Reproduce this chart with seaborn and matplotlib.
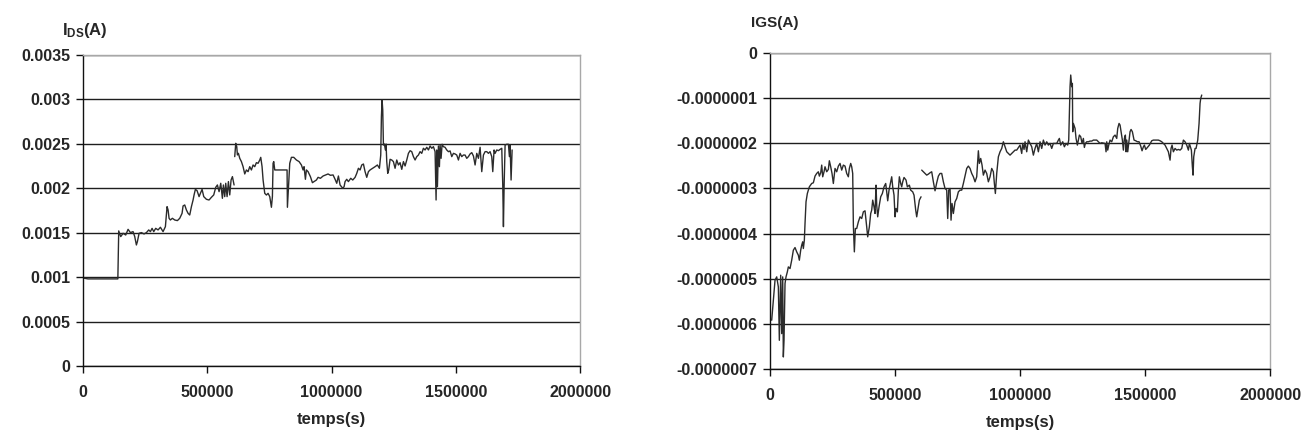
"""Courbes IDS(t) et IGS(t) - deux graphiques côte à côte"""

import numpy as np
import pandas as pd
import seaborn as sns
import matplotlib.pyplot as plt
from matplotlib.ticker import FuncFormatter, MultipleLocator

# ===================================================================
# ============================ DONNÉES ==============================
# ===================================================================

# --- IDS (A) : deux morceaux de courbe (coupure vers 608000 s) ---
ids_t_1 = [0, 20000, 130000, 140000, 143500, 151600, 161000, 171700, 181100, 190500,
           201200, 207900, 214600, 218600, 225400, 234700, 245500, 254900, 264300, 271000,
           277700, 284400, 292400, 301800, 311200, 321900, 331300, 338000, 342100, 346100,
           351400, 359500, 368900, 379600, 389000, 398400, 402400, 409100, 415800, 422500,
           429200, 436000, 442700, 446700, 452000, 458800, 466800, 472200, 478900, 485600,
           496300, 507000, 516400, 525800, 533900, 540600, 547300, 554000, 560700, 564700,
           570100, 574100, 579500, 584900, 590200, 595600, 601000, 607700]
ids_1 = [0.00099, 0.00098, 0.00098, 0.00098, 0.00152, 0.001456, 0.001493, 0.001474, 0.001538, 0.001501,
         0.001512, 0.001456, 0.001362, 0.001399, 0.001493, 0.001501, 0.001486, 0.001501, 0.001531, 0.001512,
         0.001549, 0.001512, 0.001549, 0.001531, 0.001561, 0.001512, 0.001568, 0.001793, 0.001756, 0.001662,
         0.001643, 0.001662, 0.001643, 0.001636, 0.001662, 0.001718, 0.001801, 0.001812, 0.001756, 0.001718,
         0.001699, 0.001793, 0.001868, 0.001925, 0.001988, 0.001973, 0.001906, 0.001943, 0.001988, 0.001906,
         0.001876, 0.001868, 0.001898, 0.001925, 0.002011, 0.002037, 0.001962, 0.002056, 0.001887, 0.002037,
         0.001906, 0.002056, 0.001906, 0.002075, 0.001925, 0.002093, 0.002131, 0.002037]

ids_t_2 = [610300, 614400, 618400, 621100, 625100, 630500, 637200, 643900, 650600, 657300,
           664000, 670700, 677400, 684100, 690800, 697500, 704200, 711000, 715000, 720300,
           724400, 731100, 737800, 744500, 751200, 757900, 761900, 764600, 767300, 771300,
           775300, 818300, 820900, 822300, 826300, 831700, 838400, 847800, 858500, 869200,
           878600, 885300, 889300, 894700, 898700, 905400, 914800, 922900, 929600, 939000,
           945700, 955100, 965800, 976500, 985900, 995300, 1006000, 1014100, 1020800, 1027500,
           1034200, 1045000, 1050300, 1054300, 1061000, 1067700, 1077100, 1085200, 1094600, 1101300,
           1108000, 1114700, 1121400, 1128100, 1134800, 1141500, 1148200, 1154900, 1165700, 1175100,
           1184400, 1192500, 1197800, 1200500, 1203200, 1205900, 1208600, 1212600, 1216600, 1219300,
           1222000, 1226000, 1230000, 1235400, 1242100, 1248800, 1255500, 1262200, 1268900, 1275600,
           1282400, 1289100, 1295800, 1302500, 1309200, 1315900, 1322600, 1329300, 1336000, 1342700,
           1349400, 1356100, 1362800, 1369500, 1376200, 1383000, 1389700, 1396400, 1403100, 1409800,
           1416500, 1420500, 1423200, 1425900, 1429900, 1433900, 1436600, 1440600, 1444700, 1450000,
           1456700, 1463400, 1470200, 1476900, 1483600, 1490300, 1497000, 1503700, 1510400, 1517100,
           1523800, 1530500, 1537200, 1543900, 1550600, 1557300, 1564100, 1570800, 1577500, 1584200,
           1590900, 1597600, 1604300, 1611000, 1617700, 1624400, 1631100, 1637800, 1644500, 1648600,
           1653900, 1657900, 1664700, 1671400, 1678100, 1684800, 1688800, 1691500, 1694200, 1698200,
           1704900, 1711600, 1715600, 1718300, 1722300, 1726400]
ids_2 = [0.002356, 0.002506, 0.002468, 0.002375, 0.002393, 0.002337, 0.002300, 0.002243, 0.002161, 0.002206,
         0.002187, 0.002243, 0.002206, 0.002262, 0.002243, 0.002288, 0.002281, 0.002318, 0.002348, 0.002243,
         0.002093, 0.001943, 0.001924, 0.001943, 0.001906, 0.001786, 0.001906, 0.002281, 0.002300, 0.002206,
         0.002206, 0.002206, 0.002206, 0.001786, 0.001988, 0.002281, 0.002348, 0.002348, 0.002318, 0.002300,
         0.002262, 0.002206, 0.002243, 0.002101, 0.002206, 0.002187, 0.002131, 0.002063, 0.002075, 0.002093,
         0.002123, 0.002112, 0.002138, 0.002150, 0.002161, 0.002146, 0.002150, 0.002101, 0.002056, 0.002138,
         0.002037, 0.002000, 0.002018, 0.002075, 0.002101, 0.002075, 0.002112, 0.002093, 0.002123, 0.002168,
         0.002225, 0.002206, 0.002262, 0.002273, 0.002187, 0.002123, 0.002187, 0.002206, 0.002225, 0.002243,
         0.002262, 0.002225, 0.002374, 0.002806, 0.002994, 0.002881, 0.002487, 0.002498, 0.002431, 0.002498,
         0.002300, 0.002168, 0.002206, 0.002326, 0.002318, 0.002300, 0.002225, 0.002318, 0.002262, 0.002288,
         0.002213, 0.002300, 0.002251, 0.002318, 0.002393, 0.002423, 0.002412, 0.002356, 0.002318, 0.002356,
         0.002374, 0.002412, 0.002393, 0.002450, 0.002431, 0.002461, 0.002431, 0.002476, 0.002450, 0.002468,
         0.002412, 0.001868, 0.002431, 0.002018, 0.002476, 0.002243, 0.002487, 0.002337, 0.002495, 0.002468,
         0.002461, 0.002431, 0.002412, 0.002420, 0.002356, 0.002393, 0.002386, 0.002374, 0.002318, 0.002393,
         0.002356, 0.002374, 0.002374, 0.002337, 0.002356, 0.002386, 0.002401, 0.002363, 0.002262, 0.002393,
         0.002337, 0.002461, 0.002187, 0.002374, 0.002412, 0.002412, 0.002393, 0.002412, 0.002356, 0.002187,
         0.002431, 0.002393, 0.002431, 0.002423, 0.002438, 0.002450, 0.002037, 0.001568, 0.002018, 0.002487,
         0.002495, 0.002495, 0.002356, 0.002487, 0.002093, 0.002431]

# --- IGS (A) : valeurs notées en unités de 1e-7 A, coupure vers 605000 s ---
igs_t_1 = [6700, 20000, 26700, 33300, 37300, 42700, 46700, 50700, 53300, 56000,
           60000, 64000, 69300, 73300, 80000, 86700, 93300, 100000, 106700, 113300,
           117300, 122700, 126700, 130700, 133300, 137300, 140000, 144000, 149300, 157300,
           166700, 173300, 180000, 186700, 193300, 197300, 202700, 206700, 210700, 216000,
           220000, 226700, 233300, 237300, 242700, 248000, 253300, 260000, 266700, 273300,
           280000, 286700, 293300, 300000, 306700, 313300, 317300, 322700, 326700, 330700,
           333300, 337300, 341300, 346700, 353300, 360000, 366700, 373300, 380000, 386700,
           390700, 397300, 402700, 406700, 410700, 416000, 420000, 424000, 426700, 430700,
           436000, 442700, 449300, 456000, 462700, 466700, 470700, 476000, 482700, 486700,
           490700, 496000, 500000, 504000, 509300, 513300, 517300, 522700, 526700, 530700,
           536000, 544000, 549300, 557300, 562700, 570700, 576000, 582700, 586700, 592000,
           597300, 604000]
igs_e7_1 = [-5.920, -5.033, -4.959, -5.181, -6.364, -4.922, -6.216, -4.959, -6.733, -6.364,
            -5.107, -4.959, -4.848, -4.738, -4.775, -4.590, -4.368, -4.309, -4.405, -4.479,
            -4.590, -4.368, -4.257, -4.183, -4.331, -4.146, -3.777, -3.296, -3.112, -2.964,
            -2.890, -2.875, -2.727, -2.668, -2.631, -2.727, -2.653, -2.483, -2.742, -2.631,
            -2.520, -2.631, -2.579, -2.387, -2.520, -2.668, -2.890, -2.557, -2.631, -2.505,
            -2.446, -2.594, -2.483, -2.505, -2.668, -2.742, -2.557, -2.446, -2.520, -2.668,
            -3.814, -4.405, -3.888, -3.888, -3.740, -3.629, -3.666, -3.518, -3.496, -3.851,
            -4.072, -3.851, -3.555, -3.481, -3.259, -3.407, -3.555, -2.927, -3.370, -3.629,
            -3.407, -3.185, -3.112, -2.964, -2.890, -3.075, -3.274, -3.038, -2.853, -2.742,
            -2.964, -3.149, -3.629, -3.444, -3.518, -3.038, -2.742, -2.890, -2.964, -2.853,
            -2.757, -2.816, -2.964, -2.927, -3.038, -3.075, -3.149, -3.481, -3.629, -3.444,
            -3.259, -3.185]

igs_t_2 = [606700, 613300, 620000, 626700, 633300, 640000, 646700, 653300, 660000, 666700,
           673300, 680000, 686700, 693300, 700000, 706700, 710700, 714700, 720000, 724000,
           728000, 733300, 740000, 746700, 753300, 760000, 766700, 773300, 780000, 786700,
           793300, 800000, 806700, 813300, 820000, 826700, 833300, 837300, 842700, 848000,
           853300, 860000, 866700, 873300, 880000, 886700, 893300, 897300, 901300, 906700,
           913300, 920000, 926700, 933300, 940000, 946700, 953300, 960000, 966700, 973300,
           980000, 986700, 1000000, 1006700, 1010700, 1016000, 1020000, 1026700, 1033300, 1040000,
           1046700, 1053300, 1060000, 1066700, 1073300, 1080000, 1086700, 1093300, 1100000, 1106700,
           1113300, 1120000, 1126700, 1133300, 1146700, 1153300, 1157300, 1162700, 1170700, 1177300,
           1184000, 1190700, 1194700, 1200000, 1202700, 1206700, 1209300, 1210700, 1213300, 1220000,
           1224000, 1229300, 1233300, 1237300, 1242700, 1248000, 1253300, 1257300, 1261300, 1266700,
           1273300, 1280000, 1286700, 1293300, 1300000, 1306700, 1313300, 1320000, 1326700, 1340000,
           1344000, 1346700, 1350700, 1354700, 1360000, 1366700, 1373300, 1380000, 1386700, 1390700,
           1396000, 1400000, 1404000, 1409300, 1413300, 1417300, 1421300, 1424000, 1426700, 1430700,
           1434700, 1440000, 1444000, 1449300, 1456000, 1462700, 1469300, 1476000, 1482700, 1488000,
           1493300, 1497300, 1502700, 1509300, 1517300, 1526700, 1533300, 1540000, 1546700, 1553300,
           1560000, 1566700, 1573300, 1580000, 1586700, 1593300, 1600000, 1604000, 1608000, 1613300,
           1620000, 1626700, 1633300, 1640000, 1646700, 1653300, 1660000, 1666700, 1673300, 1677300,
           1681300, 1685300, 1689300, 1692000, 1694700, 1700000, 1704000, 1706700, 1710700, 1716000,
           1720000, 1722700, 1726700]
igs_e7_2 = [-2.594, -2.631, -2.668, -2.705, -2.683, -2.653, -2.631, -2.853, -3.052, -2.875,
            -2.727, -2.668, -2.668, -2.853, -3.001, -3.038, -3.666, -3.038, -3.001, -3.703,
            -3.333, -3.555, -3.296, -3.222, -3.075, -3.038, -3.038, -2.890, -2.727, -2.557,
            -2.505, -2.557, -2.668, -2.742, -2.853, -2.742, -2.166, -2.446, -2.336, -2.483,
            -2.705, -2.594, -2.668, -2.853, -2.742, -2.557, -2.631, -2.890, -3.112, -2.668,
            -2.299, -2.188, -2.114, -1.966, -2.077, -2.188, -2.225, -2.262, -2.225, -2.188,
            -2.151, -2.151, -2.040, -2.225, -2.003, -2.136, -1.966, -2.188, -1.929, -2.003,
            -2.077, -2.262, -2.114, -2.003, -2.188, -1.966, -2.114, -1.929, -2.040, -1.966,
            -2.040, -2.003, -2.114, -2.003, -2.003, -1.929, -1.892, -2.040, -1.966, -2.077,
            -2.003, -2.040, -1.929, -0.746, -0.488, -0.746, -0.673, -1.744, -1.560, -1.670,
            -1.892, -2.040, -1.929, -1.818, -1.855, -2.003, -1.892, -2.092, -2.003, -1.966,
            -1.966, -1.951, -1.951, -1.929, -1.929, -1.929, -1.966, -2.003, -1.988, -2.003,
            -2.188, -1.966, -2.151, -2.040, -1.929, -1.966, -1.855, -1.818, -1.892, -1.670,
            -1.560, -1.596, -1.744, -1.929, -2.151, -1.892, -1.818, -2.188, -1.929, -2.188,
            -2.003, -1.744, -1.693, -1.744, -1.929, -1.944, -1.966, -1.966, -2.062, -2.166,
            -2.077, -2.040, -2.136, -2.092, -2.040, -1.944, -1.929, -1.929, -1.929, -1.929,
            -1.944, -1.966, -2.003, -2.040, -2.114, -2.188, -2.373, -2.114, -2.040, -2.188,
            -2.114, -2.151, -2.136, -2.151, -2.114, -1.929, -1.966, -2.040, -2.151, -2.003,
            -2.077, -2.151, -2.520, -2.705, -2.299, -2.114, -2.114, -2.040, -1.929, -1.560,
            -1.116, -1.005, -0.931]

# ===================================================================
# ======================= PRÉPARATION ===============================
# ===================================================================

def to_frame(parts):
    """Assemble les morceaux de courbe en un DataFrame avec un numéro de morceau."""
    frames = []
    for k, (t, v) in enumerate(parts):
        frames.append(pd.DataFrame({"t": t, "i": v, "seg": k}))
    return pd.concat(frames, ignore_index=True)


df_ids = to_frame([(ids_t_1, ids_1), (ids_t_2, ids_2)])
df_igs = to_frame([(igs_t_1, np.array(igs_e7_1) * 1e-7),
                   (igs_t_2, np.array(igs_e7_2) * 1e-7)])

# ===================================================================
# ========================= STYLE ===================================
# ===================================================================

sns.set_theme(style="white")
plt.rcParams["font.family"] = ["Liberation Sans", "DejaVu Sans"]
plt.rcParams["font.weight"] = "bold"
plt.rcParams["mathtext.fontset"] = "custom"
plt.rcParams["mathtext.rm"] = "Liberation Sans:bold"
plt.rcParams["mathtext.bf"] = "Liberation Sans:bold"
plt.rcParams["mathtext.it"] = "Liberation Sans:bold"

LINE = "#2b2b2b"
GRID = "#1e1e1e"
FRAME = "#a8a8a8"


def fmt_num(v, ndec):
    s = f"{v:.{ndec}f}".rstrip("0").rstrip(".")
    return "0" if s in ("-0", "") else s


def style_axes(ax, ymin, ymax, ystep, ndec):
    ax.set_xlim(0, 2000000)
    ax.set_ylim(ymin, ymax)
    ax.xaxis.set_major_locator(MultipleLocator(500000))
    ax.yaxis.set_major_locator(MultipleLocator(ystep))
    ax.xaxis.set_major_formatter(FuncFormatter(lambda v, p: f"{v:.0f}"))
    ax.yaxis.set_major_formatter(FuncFormatter(lambda v, p: fmt_num(v, ndec)))
    ax.yaxis.grid(True, color=GRID, lw=1.0)
    ax.xaxis.grid(False)
    ax.set_axisbelow(True)
    for side in ("left", "bottom"):
        ax.spines[side].set_color("#111111")
        ax.spines[side].set_linewidth(1.0)
    for side in ("top", "right"):
        ax.spines[side].set_color(FRAME)
        ax.spines[side].set_linewidth(1.0)
    ax.tick_params(axis="both", direction="out", length=5, width=1, color="#111111",
                   labelsize=11.5, pad=4, bottom=True, left=True)
    ax.tick_params(axis="x", pad=9)
    ax.set_xlabel("temps(s)", fontsize=12, fontweight="bold", labelpad=8)
    ax.set_ylabel("")


# ===================================================================
# ========================= WYKRESY =================================
# ===================================================================

fig = plt.figure(figsize=(13.08, 4.37), dpi=100)
ax1 = fig.add_axes([0.0635, 0.1625, 0.380, 0.7117])
ax2 = fig.add_axes([0.5887, 0.1556, 0.3823, 0.7231])

sns.lineplot(data=df_ids, x="t", y="i", units="seg", estimator=None, sort=False,
             color=LINE, lw=1.0, ax=ax1)
sns.lineplot(data=df_igs, x="t", y="i", units="seg", estimator=None, sort=False,
             color=LINE, lw=1.0, ax=ax2)

style_axes(ax1, 0, 0.0035, 0.0005, 4)
style_axes(ax2, -0.0000007, 0, 0.0000001, 7)

fig.text(0.065, 0.93, r"$\mathrm{I_{DS}}$(A)", ha="center", va="center",
         fontsize=12, fontweight="bold")
fig.text(0.592, 0.948, "IGS(A)", ha="center", va="center",
         fontsize=11, fontweight="bold")

fig.savefig("out.png", dpi=100)
